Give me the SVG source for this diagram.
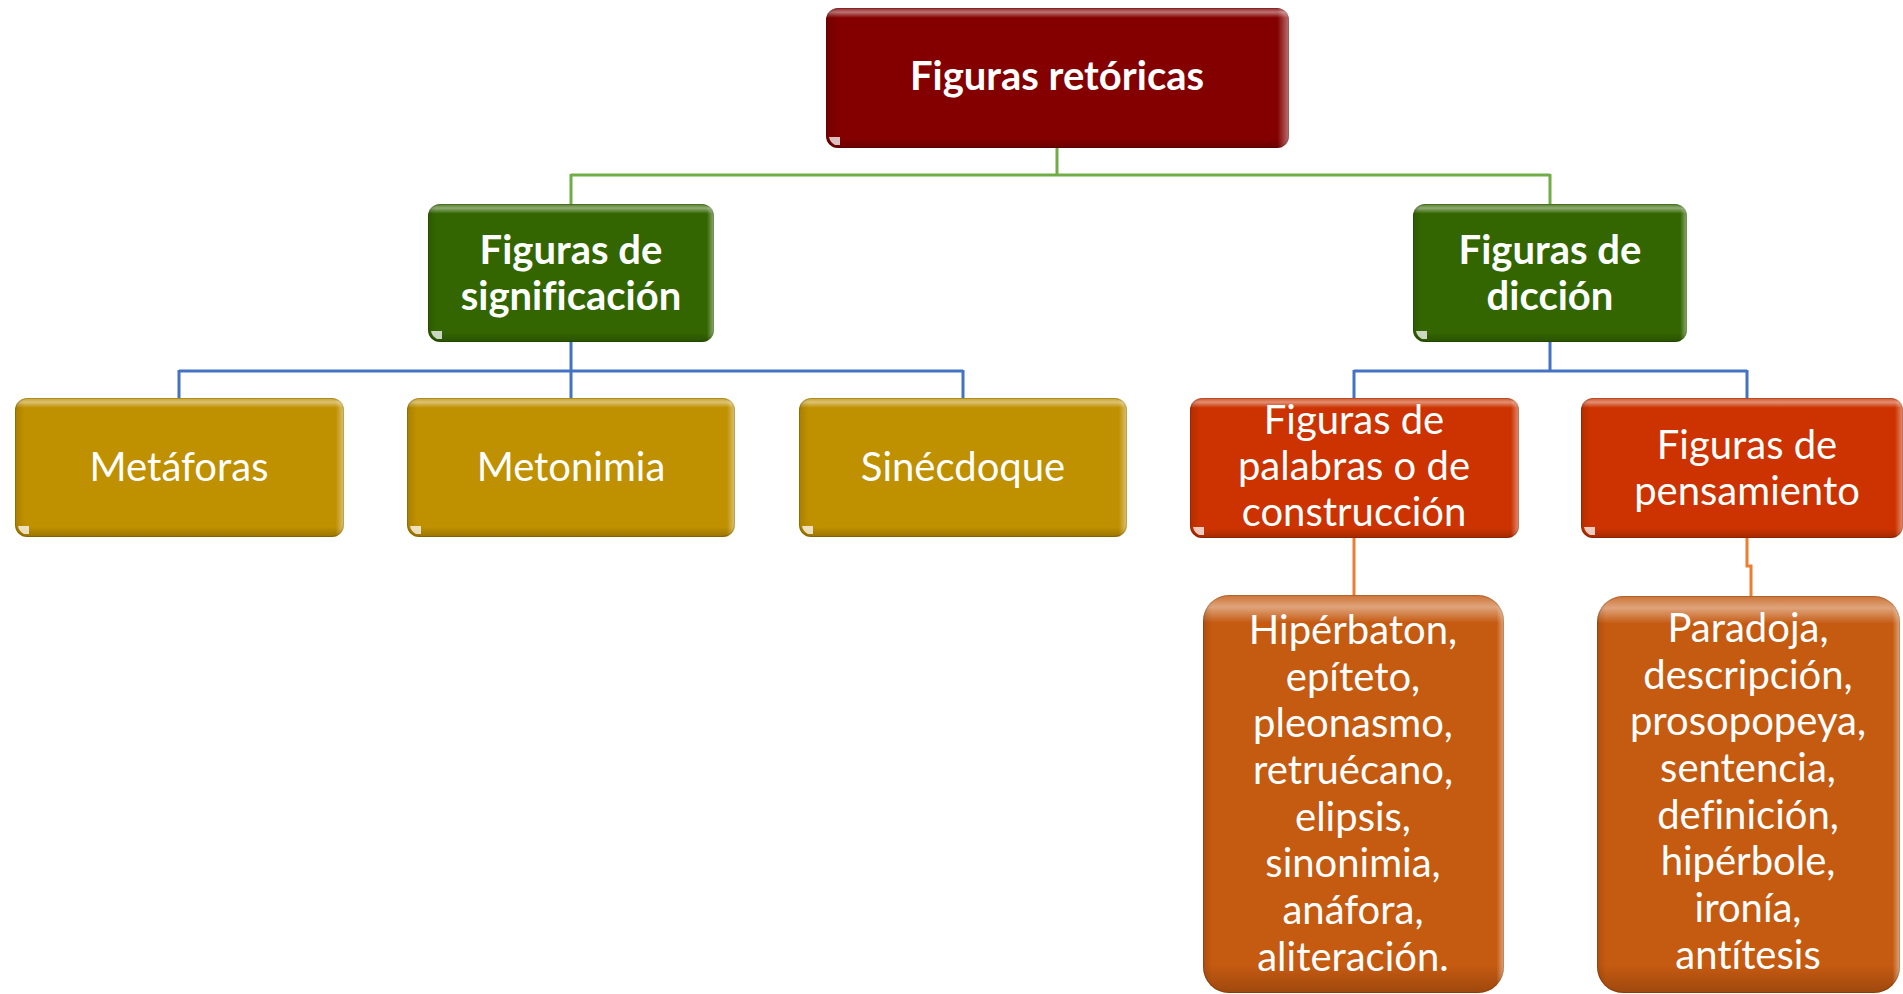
<svg xmlns="http://www.w3.org/2000/svg" width="1903" height="994" viewBox="0 0 1903 994">
<defs>
<linearGradient id="gv" x1="0" y1="0" x2="0" y2="1">
<stop offset="0" stop-color="#fff" stop-opacity="0.15"/>
<stop offset="0.03" stop-color="#fff" stop-opacity="0.45"/>
<stop offset="0.07" stop-color="#fff" stop-opacity="0"/>
<stop offset="0.93" stop-color="#000" stop-opacity="0"/>
<stop offset="1" stop-color="#000" stop-opacity="0.2"/>
</linearGradient>
<linearGradient id="gh" x1="0" y1="0" x2="1" y2="0">
<stop offset="0" stop-color="#000" stop-opacity="0.12"/>
<stop offset="0.03" stop-color="#000" stop-opacity="0"/>
<stop offset="0.975" stop-color="#fff" stop-opacity="0"/>
<stop offset="1" stop-color="#fff" stop-opacity="0.45"/>
</linearGradient>
</defs>
<style>
.bt{font-family:Lato,"Open Sans","Liberation Sans",sans-serif;font-weight:bold;font-size:40px;fill:#fff;text-anchor:middle;font-variant-ligatures:none;font-feature-settings:"liga" 0,"clig" 0}
.rt{font-family:Lato,"Open Sans","Liberation Sans",sans-serif;font-size:40px;fill:#fff;text-anchor:middle;font-variant-ligatures:none;font-feature-settings:"liga" 0,"clig" 0}
.ov1{fill:url(#gv)}
.ov2{fill:url(#gh)}
.edge{fill:none;stroke:#000;stroke-opacity:0.15;stroke-width:1}
.c-g{fill:none;stroke:#70AD47;stroke-width:3}
.c-b{fill:none;stroke:#4472C4;stroke-width:3}
.c-o{fill:none;stroke:#ED7D31;stroke-width:3}
.hl{fill:#fff;fill-opacity:0.75}
</style>
<rect width="1903" height="994" fill="#fff"/>
<g id="connectors">
<path class="c-g" d="M1057 148V175M571 175H1550M571 174V204M1550 174V204"/>
<path class="c-b" d="M571 342V371M179 371H963M179 370V398M571 370V398M963 370V398"/>
<path class="c-b" d="M1550 342V371M1354 371H1747M1354 370V398M1747 370V398"/>
<path class="c-o" d="M1354 538V595"/>
<path class="c-o" d="M1747 538V566H1751V596"/>
</g>
<g id="n-root">
<rect x="826" y="8" width="463" height="140" rx="12" fill="#840000"/>
<rect x="826" y="8" width="463" height="140" rx="12" class="ov1"/>
<rect x="826" y="8" width="463" height="140" rx="12" class="ov2"/>
<rect x="826.5" y="8.5" width="462" height="139" rx="12" class="edge"/>
<path class="hl" d="M829 137a12 12 0 0 0 6 8h5v-8z"/>
<text class="bt" x="1057" y="90">Figuras retóricas</text>
</g>
<g id="n-sig">
<rect x="428" y="204" width="286" height="138" rx="12" fill="#336600"/>
<rect x="428" y="204" width="286" height="138" rx="12" class="ov1"/>
<rect x="428" y="204" width="286" height="138" rx="12" class="ov2"/>
<rect x="428.5" y="204.5" width="285" height="137" rx="12" class="edge"/>
<path class="hl" d="M431 331a12 12 0 0 0 6 8h5v-8z"/>
<text class="bt" x="571" y="264">Figuras de</text>
<text class="bt" x="571" y="310">significación</text>
</g>
<g id="n-dic">
<rect x="1413" y="204" width="274" height="138" rx="12" fill="#336600"/>
<rect x="1413" y="204" width="274" height="138" rx="12" class="ov1"/>
<rect x="1413" y="204" width="274" height="138" rx="12" class="ov2"/>
<rect x="1413.5" y="204.5" width="273" height="137" rx="12" class="edge"/>
<path class="hl" d="M1416 331a12 12 0 0 0 6 8h5v-8z"/>
<text class="bt" x="1550" y="264">Figuras de</text>
<text class="bt" x="1550" y="310">dicción</text>
</g>
<g id="n-met">
<rect x="15" y="398" width="329" height="139" rx="12" fill="#BF9000"/>
<rect x="15" y="398" width="329" height="139" rx="12" class="ov1"/>
<rect x="15" y="398" width="329" height="139" rx="12" class="ov2"/>
<rect x="15.5" y="398.5" width="328" height="138" rx="12" class="edge"/>
<path class="hl" d="M18 526a12 12 0 0 0 6 8h5v-8z"/>
<text class="rt" x="179" y="481">Metáforas</text>
</g>
<g id="n-meto">
<rect x="407" y="398" width="328" height="139" rx="12" fill="#BF9000"/>
<rect x="407" y="398" width="328" height="139" rx="12" class="ov1"/>
<rect x="407" y="398" width="328" height="139" rx="12" class="ov2"/>
<rect x="407.5" y="398.5" width="327" height="138" rx="12" class="edge"/>
<path class="hl" d="M410 526a12 12 0 0 0 6 8h5v-8z"/>
<text class="rt" x="571" y="481">Metonimia</text>
</g>
<g id="n-sin">
<rect x="799" y="398" width="328" height="139" rx="12" fill="#BF9000"/>
<rect x="799" y="398" width="328" height="139" rx="12" class="ov1"/>
<rect x="799" y="398" width="328" height="139" rx="12" class="ov2"/>
<rect x="799.5" y="398.5" width="327" height="138" rx="12" class="edge"/>
<path class="hl" d="M802 526a12 12 0 0 0 6 8h5v-8z"/>
<text class="rt" x="963" y="481">Sinécdoque</text>
</g>
<g id="n-pal">
<rect x="1190" y="398" width="329" height="140" rx="12" fill="#CC3300"/>
<rect x="1190" y="398" width="329" height="140" rx="12" class="ov1"/>
<rect x="1190" y="398" width="329" height="140" rx="12" class="ov2"/>
<rect x="1190.5" y="398.5" width="328" height="139" rx="12" class="edge"/>
<path class="hl" d="M1193 527a12 12 0 0 0 6 8h5v-8z"/>
<text class="rt" x="1354" y="434">Figuras de</text>
<text class="rt" x="1354" y="480">palabras o de</text>
<text class="rt" x="1354" y="526">construcción</text>
</g>
<g id="n-pen">
<rect x="1581" y="398" width="322" height="140" rx="12" fill="#CC3300"/>
<rect x="1581" y="398" width="322" height="140" rx="12" class="ov1"/>
<rect x="1581" y="398" width="322" height="140" rx="12" class="ov2"/>
<rect x="1581.5" y="398.5" width="321" height="139" rx="12" class="edge"/>
<path class="hl" d="M1584 527a12 12 0 0 0 6 8h5v-8z"/>
<text class="rt" x="1747" y="459">Figuras de</text>
<text class="rt" x="1747" y="505">pensamiento</text>
</g>
<g id="n-list1">
<rect x="1203" y="595" width="301" height="398" rx="26" fill="#C55A11"/>
<rect x="1203" y="595" width="301" height="398" rx="26" class="ov1"/>
<rect x="1203" y="595" width="301" height="398" rx="26" class="ov2"/>
<rect x="1203.5" y="595.5" width="300" height="397" rx="26" class="edge"/>
<text class="rt" x="1353" y="644">Hipérbaton,</text>
<text class="rt" x="1353" y="691">epíteto,</text>
<text class="rt" x="1353" y="737">pleonasmo,</text>
<text class="rt" x="1353" y="784">retruécano,</text>
<text class="rt" x="1353" y="831">elipsis,</text>
<text class="rt" x="1353" y="877">sinonimia,</text>
<text class="rt" x="1353" y="924">anáfora,</text>
<text class="rt" x="1353" y="971">aliteración.</text>
</g>
<g id="n-list2">
<rect x="1597" y="596" width="303" height="397" rx="26" fill="#C55A11"/>
<rect x="1597" y="596" width="303" height="397" rx="26" class="ov1"/>
<rect x="1597" y="596" width="303" height="397" rx="26" class="ov2"/>
<rect x="1597.5" y="596.5" width="302" height="396" rx="26" class="edge"/>
<text class="rt" x="1748" y="642">Paradoja,</text>
<text class="rt" x="1748" y="689">descripción,</text>
<text class="rt" x="1748" y="735">prosopopeya,</text>
<text class="rt" x="1748" y="782">sentencia,</text>
<text class="rt" x="1748" y="829">definición,</text>
<text class="rt" x="1748" y="875">hipérbole,</text>
<text class="rt" x="1748" y="922">ironía,</text>
<text class="rt" x="1748" y="969">antítesis</text>
</g>
</svg>
